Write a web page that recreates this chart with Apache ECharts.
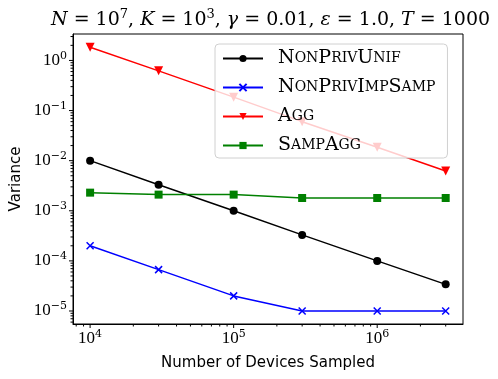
<!DOCTYPE html>
<html>
<head>
<meta charset="utf-8">
<script src="https://cdn.jsdelivr.net/npm/echarts@6/dist/echarts.min.js"></script>
<style>
  html, body { margin: 0; padding: 0; background: #fff; }
  #chart { width: 498px; height: 379px; }
</style>
</head>
<body>
<div id="chart"></div>
<script>
// devices sampled
const xValues = [1e4, 3e4, 1e5, 3e5, 1e6, 3e6]
const nonPrivUnif = [1.0e-2, 3.3e-3, 1.0e-3, 3.3e-4, 1.0e-4, 3.4e-5]
const nonPrivImpSamp = [2.0e-4, 6.7e-5, 2.0e-5, 1.0e-5, 1.0e-5, 1.0e-5]
const agg = [1.84, 0.62, 0.185, 0.06, 0.0185, 0.0062]
const sampAgg = [2.3e-3, 2.1e-3, 2.1e-3, 1.8e-3, 1.8e-3, 1.8e-3]
const seriesNames = ['NonPrivUnif', 'NonPrivImpSamp', 'Agg', 'SampAgg']

const xMin = 7.6e3
const xMax = 3.96e6
const yMin = 5.5e-6
const yMax = 3.37

const serif = 'DejaVu Serif'

// log axis ticks (major at powers of ten, minor at 2..9)
function logTicks(lo, hi) {
  const out = []
  for (let e = Math.floor(Math.log10(lo)); e <= Math.ceil(Math.log10(hi)); e++) {
    for (let m = 1; m < 10; m++) {
      const v = m * Math.pow(10, e)
      if (v >= lo && v <= hi) out.push([v, m === 1 ? 4 : 2.5])
    }
  }
  return out
}
const xTicks = logTicks(xMin, xMax)
const yTicks = logTicks(yMin, yMax)

function pow10Label(v) {
  const e = Math.log10(v)
  if (Math.abs(e - Math.round(e)) > 1e-6) return ''
  const n = Math.round(e)
  return '{b|10}{sup|' + (n < 0 ? '\u2212' + (-n) : n) + '}'
}

function smallCaps(name) {
  return name.replace(/[A-Z][a-z]*/g, w =>
    '{b|' + w[0] + '}' + (w.length > 1 ? '{s|' + w.slice(1).toUpperCase() + '}' : ''))
}

const labelRich = {
  b: { fontFamily: 'Liberation Serif', fontSize: 17, color: '#000', lineHeight: 20 },
  sup: { fontFamily: serif, fontSize: 11, color: '#000', verticalAlign: 'top', lineHeight: 20 }
}

function pair(ys) {
  return xValues.map((x, i) => [x, ys[i]])
}

const chart = echarts.init(document.getElementById('chart'))
chart.setOption({
  animation: false,
  title: {
    text: '{i|N} = 10{sup|7}, {i|K} = 10{sup|3}, {i|\u03b3} = 0.01, {i|\u03b5} = 1.0, {i|T} = 1000',
    left: 46,
    top: 3,
    textStyle: {
      fontFamily: serif,
      fontSize: 19,
      fontWeight: 'normal',
      color: '#000',
      rich: {
        i: { fontFamily: serif, fontSize: 19, fontStyle: 'italic', color: '#000', lineHeight: 24 },
        sup: { fontFamily: serif, fontSize: 13, color: '#000', verticalAlign: 'top', lineHeight: 24 }
      }
    }
  },
  grid: {
    left: 73,
    right: 35,
    top: 34,
    bottom: 55,
    outerBoundsMode: 'none',
    show: true,
    borderColor: '#000',
    borderWidth: 1
  },
  legend: {
    data: seriesNames,
    orient: 'vertical',
    left: 215,
    top: 44,
    padding: [5, 12, 3, 7],
    itemWidth: 40,
    itemHeight: 9,
    itemGap: 10,
    selectedMode: false,
    backgroundColor: 'rgba(255,255,255,0.8)',
    borderColor: '#d0d0d0',
    borderWidth: 1,
    borderRadius: 4,
    formatter: smallCaps,
    textStyle: {
      padding: [0, 0, 0, 10],
      rich: {
        b: { fontFamily: serif, fontSize: 19, color: '#000', lineHeight: 20 },
        s: { fontFamily: serif, fontSize: 14, color: '#000', lineHeight: 20 }
      }
    }
  },
  xAxis: {
    type: 'log',
    min: xMin,
    max: xMax,
    name: 'Number of Devices Sampled',
    nameLocation: 'middle',
    nameGap: 32,
    nameMoveOverlap: false,
    nameTextStyle: { fontFamily: 'DejaVu Sans', fontSize: 15, color: '#000' },
    axisLine: { lineStyle: { color: '#000' } },
    axisTick: { show: false },
    splitLine: { show: false },
    axisLabel: { margin: 5, formatter: pow10Label, rich: labelRich }
  },
  yAxis: {
    type: 'log',
    min: yMin,
    max: yMax,
    name: 'Variance',
    nameLocation: 'middle',
    nameGap: 49,
    nameMoveOverlap: false,
    nameTextStyle: { fontFamily: 'DejaVu Sans', fontSize: 15, color: '#000' },
    axisLine: { lineStyle: { color: '#000' } },
    axisTick: { show: false },
    splitLine: { show: false },
    axisLabel: { margin: 6, formatter: pow10Label, rich: labelRich }
  },
  series: [
    {
      name: 'NonPrivUnif',
      type: 'line',
      data: pair(nonPrivUnif),
      symbol: 'circle',
      symbolSize: 8,
      color: '#000000',
      lineStyle: { width: 1.5 }
    },
    {
      name: 'NonPrivImpSamp',
      type: 'line',
      data: pair(nonPrivImpSamp),
      symbol: 'path://M0,0L10,10M10,0L0,10',
      symbolSize: 7,
      color: '#0000ff',
      itemStyle: { borderColor: '#0000ff', borderWidth: 1.5 },
      lineStyle: { width: 1.5 }
    },
    {
      name: 'Agg',
      type: 'line',
      data: pair(agg),
      symbol: 'triangle',
      symbolRotate: 180,
      symbolSize: 9,
      color: '#ff0000',
      lineStyle: { width: 1.5 }
    },
    {
      name: 'SampAgg',
      type: 'line',
      data: pair(sampAgg),
      symbol: 'rect',
      symbolSize: 8,
      color: '#008000',
      lineStyle: { width: 1.5 }
    },
    {
      type: 'custom',
      silent: true,
      data: xTicks.map(t => [t[0], yMin, t[1]]),
      encode: { x: 0, y: 1 },
      renderItem: function (params, api) {
        const p = api.coord([api.value(0), yMin])
        return {
          type: 'line',
          shape: { x1: p[0], y1: p[1], x2: p[0], y2: p[1] + api.value(2) },
          style: { stroke: '#000', lineWidth: 1 }
        }
      }
    },
    {
      type: 'custom',
      silent: true,
      data: yTicks.map(t => [xMin, t[0], t[1]]),
      encode: { x: 0, y: 1 },
      renderItem: function (params, api) {
        const p = api.coord([xMin, api.value(1)])
        return {
          type: 'line',
          shape: { x1: p[0], y1: p[1], x2: p[0] - api.value(2), y2: p[1] },
          style: { stroke: '#000', lineWidth: 1 }
        }
      }
    }
  ]
})
</script>
</body>
</html>
